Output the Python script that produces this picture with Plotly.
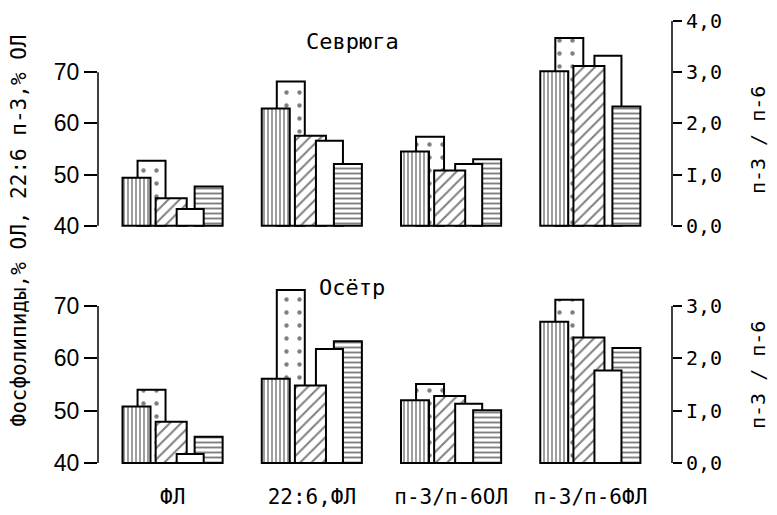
import plotly.graph_objects as go

# ---------------- data ----------------
groups = ["ФЛ", "22:6,ФЛ", "п-3/п-6ОЛ", "п-3/п-6ФЛ"]
# five samples per group, drawn as: vertical lines, dots, hatch, blank, horizontal lines
sevryuga_fl = [49.4, 52.7, 45.4, 43.3, 47.7]
sevryuga_226 = [62.9, 68.2, 57.6, 56.6, 52.1]
sevryuga_ratio_ol = [1.45, 1.74, 1.08, 1.21, 1.30]
sevryuga_ratio_fl = [3.02, 3.67, 3.12, 3.32, 2.33]
osetr_fl = [50.8, 54.0, 47.9, 41.7, 45.0]
osetr_226 = [56.1, 73.1, 54.8, 61.8, 63.3]
osetr_ratio_ol = [1.20, 1.51, 1.28, 1.13, 1.01]
osetr_ratio_fl = [2.70, 3.12, 2.40, 1.77, 2.20]

left_ticks = [40, 50, 60, 70]
right_ticks_top = [0, 1, 2, 3, 4]
right_ticks_bottom = [0, 1, 2, 3]
right_ticktext = ["0,0", "I,0", "2,0", "3,0", "4,0"]
panel_titles = ["Севрюга", "Осётр"]
left_title = "Фосфолипиды,% ОЛ, 22:6 п-3,% ОЛ"
right_title = "п-3 / п-6"

# ---------------- style ----------------
MONO = "DejaVu Sans Mono"
SANS = "Liberation Sans"
patterns = [
    dict(shape="|", size=4, solidity=0.38),
    dict(shape=".", size=13, solidity=0.09),
    dict(shape="/", size=8, solidity=0.25),
    dict(shape="", size=8, solidity=0.2),
    dict(shape="-", size=5, solidity=0.38),
]
offsets = [-0.360, -0.252, -0.122, 0.029, 0.158]
widths = [0.201, 0.201, 0.223, 0.194, 0.201]

fig = go.Figure()


def add_group(xaxis, yaxis, group, values, base):
    order = sorted(range(len(values)), key=lambda i: -values[i])  # taller behind
    for i in order:
        fig.add_trace(go.Bar(
            x=[group], y=[values[i] - base], base=base,
            offset=offsets[i], width=widths[i],
            xaxis=xaxis, yaxis=yaxis, showlegend=False,
            marker=dict(color="white",
                        line=dict(color="black", width=2),
                        pattern=dict(fgcolor="black", bgcolor="white",
                                     fillmode="overlay", **patterns[i])),
        ))


add_group("x", "y", groups[0], sevryuga_fl, 40)
add_group("x", "y", groups[1], sevryuga_226, 40)
add_group("x", "y2", groups[2], sevryuga_ratio_ol, 0)
add_group("x", "y2", groups[3], sevryuga_ratio_fl, 0)
add_group("x2", "y3", groups[0], osetr_fl, 40)
add_group("x2", "y3", groups[1], osetr_226, 40)
add_group("x2", "y4", groups[2], osetr_ratio_ol, 0)
add_group("x2", "y4", groups[3], osetr_ratio_fl, 0)

xr = [-0.536, 3.586]
top_dom = [0.534, 1.0]
bot_dom = [0.0, 0.4167]

left_axis = dict(showgrid=False, zeroline=False, showline=False, automargin=False,
                 ticks="outside", ticklen=13, tickwidth=1.5, tickcolor="black",
                 ticklabeloverflow="allow",
                 tickvals=left_ticks, tickfont=dict(family=SANS, size=23, color="black"))
right_axis = dict(showgrid=False, zeroline=False, showline=False, side="right",
                  automargin=False, ticklabeloverflow="allow",
                  ticks="outside", ticklen=9, tickwidth=1.5, tickcolor="black",
                  tickfont=dict(family=MONO, size=20, color="black"))

fig.update_layout(
    width=777, height=515,
    margin=dict(l=90, r=113, t=13, b=58, autoexpand=False),
    paper_bgcolor="white", plot_bgcolor="white",
    barmode="overlay",
    xaxis=dict(domain=[0, 1], range=xr, anchor="y", type="category",
               categoryorder="array", categoryarray=groups, automargin=False,
               showticklabels=False, showgrid=False, zeroline=False, ticks=""),
    xaxis2=dict(domain=[0, 1], range=xr, anchor="y3", type="category",
                categoryorder="array", categoryarray=groups, automargin=False,
                showgrid=False, zeroline=False, ticks="", ticklabelstandoff=17,
                tickfont=dict(family=MONO, size=21, color="black")),
    yaxis=dict(domain=top_dom, range=[39.6, 80], anchor="x", **left_axis),
    yaxis2=dict(range=[-0.04, 4.0], overlaying="y", anchor="x",
                tickvals=right_ticks_top, ticktext=right_ticktext, **right_axis),
    yaxis3=dict(domain=bot_dom, range=[39.6, 75], anchor="x2", **left_axis),
    yaxis4=dict(range=[-0.04, 3.5], overlaying="y3", anchor="x2",
                tickvals=right_ticks_bottom,
                ticktext=right_ticktext[:len(right_ticks_bottom)], **right_axis),
)

# axis spines only over the labelled range
line = dict(color="black", width=1.5)
fig.add_shape(type="line", xref="x domain", yref="y", x0=0, x1=0, y0=40, y1=70, line=line)
fig.add_shape(type="line", xref="x domain", yref="y2", x0=1, x1=1, y0=0, y1=4, line=line)
fig.add_shape(type="line", xref="x2 domain", yref="y3", x0=0, x1=0, y0=40, y1=70, line=line)
fig.add_shape(type="line", xref="x2 domain", yref="y4", x0=1, x1=1, y0=0, y1=3, line=line)

title_font = dict(family=MONO, size=22, color="black")
anch = dict(xref="paper", yref="paper", showarrow=False, xanchor="center", yanchor="middle")
fig.add_annotation(text=panel_titles[0], x=0.444, y=0.953, font=title_font, **anch)
fig.add_annotation(text=panel_titles[1], x=0.4425, y=0.399, font=title_font, **anch)
fig.add_annotation(text=left_title, x=-0.137, y=0.529, textangle=-90,
                   font=dict(family=MONO, size=21, color="black"), **anch)
for yc in (0.732, 0.203):
    fig.add_annotation(text=right_title, x=1.150, y=yc, textangle=-90,
                       font=dict(family=MONO, size=20, color="black"), **anch)

fig.write_html("out.html")
